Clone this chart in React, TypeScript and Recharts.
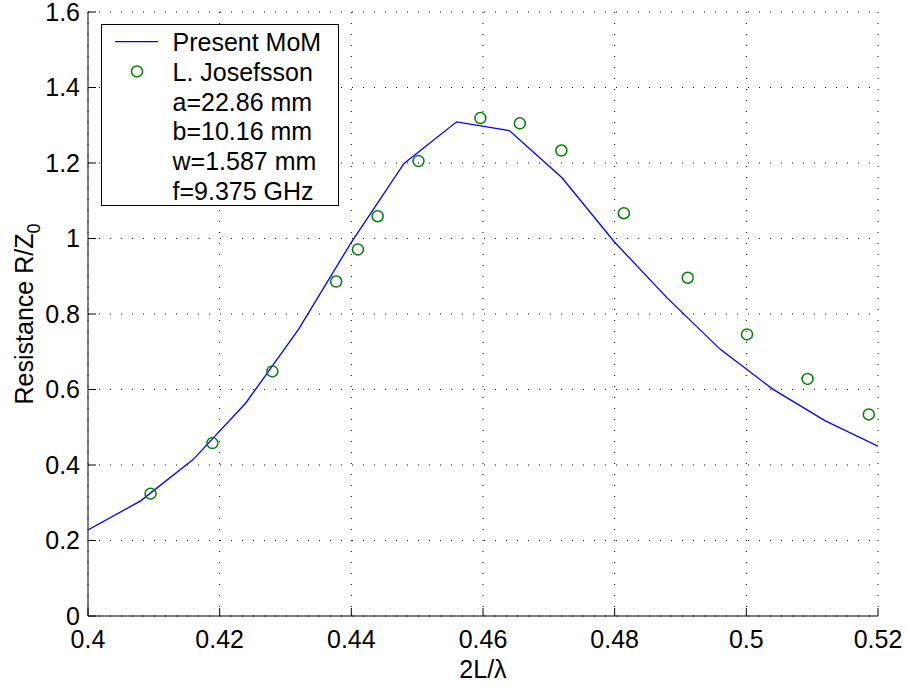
import { ComposedChart, Line, Scatter, XAxis, YAxis, CartesianGrid } from "recharts";

// Present MoM curve
const momX = [0.4, 0.408, 0.416, 0.424, 0.432, 0.44, 0.448, 0.456, 0.464, 0.472, 0.48, 0.488, 0.496, 0.504, 0.512, 0.52];
const momR = [0.228, 0.305, 0.415, 0.565, 0.76, 0.99, 1.199, 1.309, 1.286, 1.161, 0.99, 0.842, 0.707, 0.601, 0.517, 0.45];

// L. Josefsson measurements
const josX = [0.4095, 0.4189, 0.428, 0.4377, 0.441, 0.444, 0.4502, 0.4596, 0.4656, 0.4719, 0.4814, 0.4911, 0.5001, 0.5093, 0.5186];
const josR = [0.324, 0.458, 0.648, 0.886, 0.971, 1.059, 1.205, 1.319, 1.305, 1.233, 1.067, 0.896, 0.746, 0.628, 0.534];

const xTicks = [0.4, 0.42, 0.44, 0.46, 0.48, 0.5, 0.52];
const yTicks = [0, 0.2, 0.4, 0.6, 0.8, 1, 1.2, 1.4, 1.6];

const seriesNames = ["Present MoM", "L. Josefsson"];
const legendParams = ["a=22.86 mm", "b=10.16 mm", "w=1.587 mm", "f=9.375 GHz"];

const momData = momX.map((x, i) => ({ x, r: momR[i] }));
const josData = josX.map((x, i) => ({ x, r: josR[i] }));

const FONT = "'Liberation Sans', Arial, Helvetica, sans-serif";
const BLUE = "#0000ff";
const GREEN = "#008000";
const FS = 25;

const tickStyle = { fill: "#000", fontSize: FS, fontFamily: FONT };

function Ring(props: any) {
  const { cx, cy } = props;
  return <circle cx={cx} cy={cy} r={5.5} fill="none" stroke={GREEN} strokeWidth={1.5} />;
}

function LegendBox() {
  const rowY = (i: number) => 17.7 + i * 29.7;
  return (
    <div
      style={{
        position: "absolute",
        left: 101,
        top: 24,
        width: 238,
        height: 182,
        border: "1px solid #000",
        background: "#fff",
        boxSizing: "border-box",
      }}
    >
      <svg width={236} height={180} style={{ display: "block" }}>
        <line x1={13} x2={56} y1={rowY(0) - 1} y2={rowY(0) - 1} stroke={BLUE} strokeWidth={1.3} />
        <circle cx={35} cy={rowY(1) - 1} r={5.5} fill="none" stroke={GREEN} strokeWidth={1.5} />
        {[...seriesNames, ...legendParams].map((t, i) => (
          <text key={i} x={70.5} y={rowY(i) + 8.4} fontFamily={FONT} fontSize={FS} fill="#000">
            {t}
          </text>
        ))}
      </svg>
    </div>
  );
}

export default function App() {
  return (
    <div style={{ position: "absolute", left: 0, top: 0, width: 907, height: 686, background: "#fff" }}>
      <ComposedChart width={907} height={686} margin={{ top: 12, right: 29, left: 0, bottom: 0 }}>
        <CartesianGrid stroke="#000" strokeDasharray="1 10" />
        <XAxis
          type="number"
          dataKey="x"
          domain={[0.4, 0.52]}
          ticks={xTicks}
          interval={0}
          allowDataOverflow
          height={70}
          tickSize={-8}
          tickMargin={22}
          tick={tickStyle}
          axisLine={{ stroke: "#000" }}
          tickLine={{ stroke: "#000" }}
          label={{
            content: ({ viewBox }: any) => (
              <text
                x={viewBox.x + viewBox.width / 2}
                y={viewBox.y + 62}
                textAnchor="middle"
                fontFamily={FONT}
                fontSize={FS}
                fill="#000"
              >
                2L/λ
              </text>
            ),
          }}
        />
        <XAxis
          xAxisId="top"
          orientation="top"
          type="number"
          domain={[0.4, 0.52]}
          ticks={xTicks}
          interval={0}
          allowDataOverflow
          height={0}
          tickSize={-8}
          tickFormatter={() => ""}
          axisLine={{ stroke: "#000" }}
          tickLine={{ stroke: "#000" }}
        />
        <YAxis
          type="number"
          domain={[0, 1.6]}
          ticks={yTicks}
          interval={0}
          allowDataOverflow
          width={88}
          tickSize={-8}
          tickMargin={16}
          tick={tickStyle}
          axisLine={{ stroke: "#000" }}
          tickLine={{ stroke: "#000" }}
          label={{
            content: ({ viewBox }: any) => {
              const cx = 33;
              const cy = viewBox.y + viewBox.height / 2;
              return (
                <text
                  x={cx}
                  y={cy}
                  transform={`rotate(-90, ${cx}, ${cy})`}
                  textAnchor="middle"
                  fontFamily={FONT}
                  fontSize={FS}
                  fill="#000"
                >
                  Resistance R/Z
                  <tspan fontSize={18} dy={7}>0</tspan>
                </text>
              );
            },
          }}
        />
        <YAxis
          yAxisId="right"
          orientation="right"
          type="number"
          domain={[0, 1.6]}
          ticks={yTicks}
          interval={0}
          allowDataOverflow
          width={0}
          tickSize={-8}
          tickFormatter={() => ""}
          axisLine={{ stroke: "#000" }}
          tickLine={{ stroke: "#000" }}
        />
        <Line
          data={momData}
          dataKey="r"
          type="linear"
          stroke={BLUE}
          strokeWidth={1.3}
          dot={false}
          isAnimationActive={false}
        />
        <Scatter data={josData} dataKey="r" shape={<Ring />} isAnimationActive={false} />
      </ComposedChart>
      <LegendBox />
    </div>
  );
}
